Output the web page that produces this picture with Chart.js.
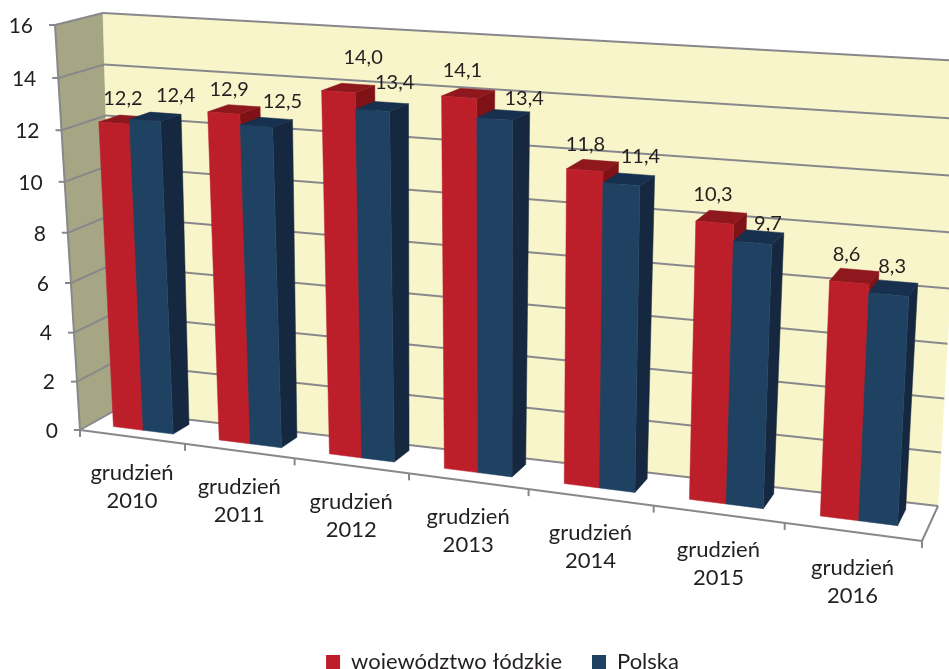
<!DOCTYPE html>
<html>
<head>
<meta charset="utf-8">
<title>Wykres</title>
<script src="https://cdn.jsdelivr.net/npm/chart.js@4"></script>
<style>
    html, body { margin: 0; padding: 0; background: #fff; overflow: hidden; }
    canvas { display: block; }
</style>
</head>
<body>
<canvas id="myChart" width="949" height="669"></canvas>
<script>
const categories = [
    ['grudzień', '2010'], ['grudzień', '2011'], ['grudzień', '2012'], ['grudzień', '2013'],
    ['grudzień', '2014'], ['grudzień', '2015'], ['grudzień', '2016']
];
const lodzkie = [12.2, 12.9, 14.0, 14.1, 11.8, 10.3, 8.6];
const polska = [12.4, 12.5, 13.4, 13.4, 11.4, 9.7, 8.3];
const yTicks = { min: 0, max: 16, step: 2 };

// rogi skrzynki wykresu na ekranie: [lewy dol, prawy dol, prawy gora, lewy gora]
const frontQuad = [[80, 430], [922, 541], [945, 80], [55, 25]];
const backQuad = [[114, 411], [938, 506], [964, 61], [103, 13]];
const barDepth = [0.33, 0.8];
// dodatkowe skrocenie perspektywy wzdluz osi X
const xBend = 0.02;

// reczne przesuniecia etykiet wartosci, tak jak w oryginale
const labelShift = [
    [[3, -1], [0, 1], [20, -10], [0, -2], [0, 1], [0, 0], [2, 2]],
    [[7, -1], [3, 0], [0, -3], [9, 5], [1, -1], [0, 9], [-9, 2]]
];

const textColor = '#231f20';
const gridColor = '#88888c';

// homografia z kwadratu jednostkowego na czworokat
function makeHomography(q) {
    const [x0, y0] = q[0], [x1, y1] = q[1], [x2, y2] = q[2], [x3, y3] = q[3];
    const dx1 = x1 - x2, dx2 = x3 - x2, sx = x0 - x1 + x2 - x3;
    const dy1 = y1 - y2, dy2 = y3 - y2, sy = y0 - y1 + y2 - y3;
    const det = dx1 * dy2 - dx2 * dy1;
    const g = (sx * dy2 - dx2 * sy) / det;
    const h = (dx1 * sy - sx * dy1) / det;
    const a = x1 - x0 + g * x1, b = x3 - x0 + h * x3;
    const d = y1 - y0 + g * y1, e = y3 - y0 + h * y3;
    return (u, v) => {
        const w = g * u + h * v + 1;
        return [(a * u + b * v + x0) / w, (d * u + e * v + y0) / w];
    };
}
const front = makeHomography(frontQuad);
const back = makeHomography(backQuad);

// u - pozycja wzdluz osi X (0..1), v - wartosc, depth - 0 przod, 1 tyl
function project(u, v, depth) {
    const t = v / yTicks.max;
    const s = u - xBend * u * (1 - u);
    const f = front(s, t), b = back(s, t);
    return [f[0] + (b[0] - f[0]) * depth, f[1] + (b[1] - f[1]) * depth];
}

function poly(ctx, pts, color) {
    ctx.beginPath();
    pts.forEach((p, i) => i ? ctx.lineTo(p[0], p[1]) : ctx.moveTo(p[0], p[1]));
    ctx.closePath();
    ctx.fillStyle = color;
    ctx.fill();
    ctx.strokeStyle = color;
    ctx.lineWidth = 0.5;
    ctx.stroke();
}

function line(ctx, a, b, width) {
    ctx.beginPath();
    ctx.moveTo(a[0], a[1]);
    ctx.lineTo(b[0], b[1]);
    ctx.lineWidth = width || 2;
    ctx.strokeStyle = gridColor;
    ctx.stroke();
}

const box3d = {
    id: 'box3d',
    // sciany, siatka i osie
    beforeDatasetsDraw(chart) {
        const ctx = chart.ctx, max = yTicks.max;
        const yTickValues = chart.scales.y.ticks.map(t => t.value);
        ctx.save();
        poly(ctx, [project(0, 0, 0), project(0, 0, 1), project(0, max, 1), project(0, max, 0)], '#a6a684');
        poly(ctx, [project(0, 0, 1), project(1, 0, 1), project(1, max, 1), project(0, max, 1)], '#f9f5ca');

        yTickValues.forEach(v => {
            line(ctx, project(0, v, 0), project(0, v, 1));
            line(ctx, project(0, v, 1), project(1, v, 1));
            const p = project(0, v, 0);
            line(ctx, [p[0] - 6, p[1]], p);
        });
        line(ctx, project(0, 0, 0), project(0, max, 0));
        line(ctx, project(0, 0, 0), project(1, 0, 0));
        line(ctx, project(1, 0, 0), project(1, 0, 1));
        for (let i = 0; i <= categories.length; i++) {
            const p = project(i / categories.length, 0, 0);
            line(ctx, p, [p[0], p[1] + 7]);
        }

        ctx.font = '21px Lato';
        ctx.fillStyle = textColor;
        ctx.textBaseline = 'middle';
        ctx.textAlign = 'right';
        yTickValues.forEach(v => {
            const p = project(0, v, 0);
            ctx.fillText(String(v), p[0] - 22, p[1] + 1);
        });
        ctx.font = '22px Lato';
        ctx.textAlign = 'center';
        chart.scales.x.getLabels().forEach((label, i) => {
            const p = project((i + 0.5) / categories.length, 0, 0);
            ctx.fillText(label[0], p[0], p[1] + 36);
            ctx.fillText(label[1], p[0], p[1] + 64);
        });
        ctx.restore();
    },
    // zwykle prostokaty wylaczone, slupki rysuje afterDatasetsDraw
    beforeDatasetDraw() {
        return false;
    },
    afterDatasetsDraw(chart) {
        const ctx = chart.ctx, area = chart.chartArea;
        const yScale = chart.scales.y;
        const [d0, d1] = barDepth;
        ctx.save();
        const tops = [];
        categories.forEach((c, i) => {
            chart.data.datasets.forEach((ds, k) => {
                const bar = chart.getDatasetMeta(k).data[i];
                const u0 = (bar.x - bar.width / 2 - area.left) / area.width;
                const u1 = (bar.x + bar.width / 2 - area.left) / area.width;
                const v = yScale.getValueForPixel(bar.y);
                poly(ctx, [project(u1, 0, d0), project(u1, 0, d1), project(u1, v, d1), project(u1, v, d0)], ds.sideColor);
                poly(ctx, [project(u0, v, d0), project(u1, v, d0), project(u1, v, d1), project(u0, v, d1)], ds.topColor);
                poly(ctx, [project(u0, 0, d0), project(u1, 0, d0), project(u1, v, d0), project(u0, v, d0)], ds.backgroundColor);
                const t = project((u0 + u1) / 2, v, d1);
                const shift = labelShift[k][i];
                tops.push({
                    x: t[0] + (k === 1 ? 3 : -15) + shift[0],
                    y: t[1] - 17 + shift[1],
                    text: ds.data[i].toFixed(1).replace('.', ',')
                });
            });
        });
        ctx.font = '20px Lato';
        ctx.fillStyle = textColor;
        ctx.textAlign = 'center';
        ctx.textBaseline = 'middle';
        tops.forEach(t => ctx.fillText(t.text, t.x, t.y));
        ctx.restore();
    }
};

new Chart(document.getElementById('myChart'), {
    type: 'bar',
    plugins: [box3d],
    data: {
        labels: categories,
        datasets: [
            { label: 'województwo łódzkie', data: lodzkie, backgroundColor: '#bc1f2a', topColor: '#8e181e', sideColor: '#7f1216', borderWidth: 0 },
            { label: 'Polska', data: polska, backgroundColor: '#1f4263', topColor: '#17304d', sideColor: '#16283f', borderWidth: 0 }
        ]
    },
    options: {
        responsive: false,
        animation: false,
        categoryPercentage: 0.57,
        barPercentage: 1,
        layout: { padding: { left: 56, bottom: -14 } },
        scales: {
            x: { display: false },
            y: { display: false, min: yTicks.min, max: yTicks.max, ticks: { stepSize: yTicks.step } }
        },
        plugins: {
            tooltip: { enabled: false },
            legend: {
                position: 'bottom',
                labels: {
                    font: { family: 'Lato', size: 22 },
                    color: textColor,
                    boxWidth: 14,
                    boxHeight: 14,
                    padding: 30
                }
            }
        }
    }
});
</script>
</body>
</html>
